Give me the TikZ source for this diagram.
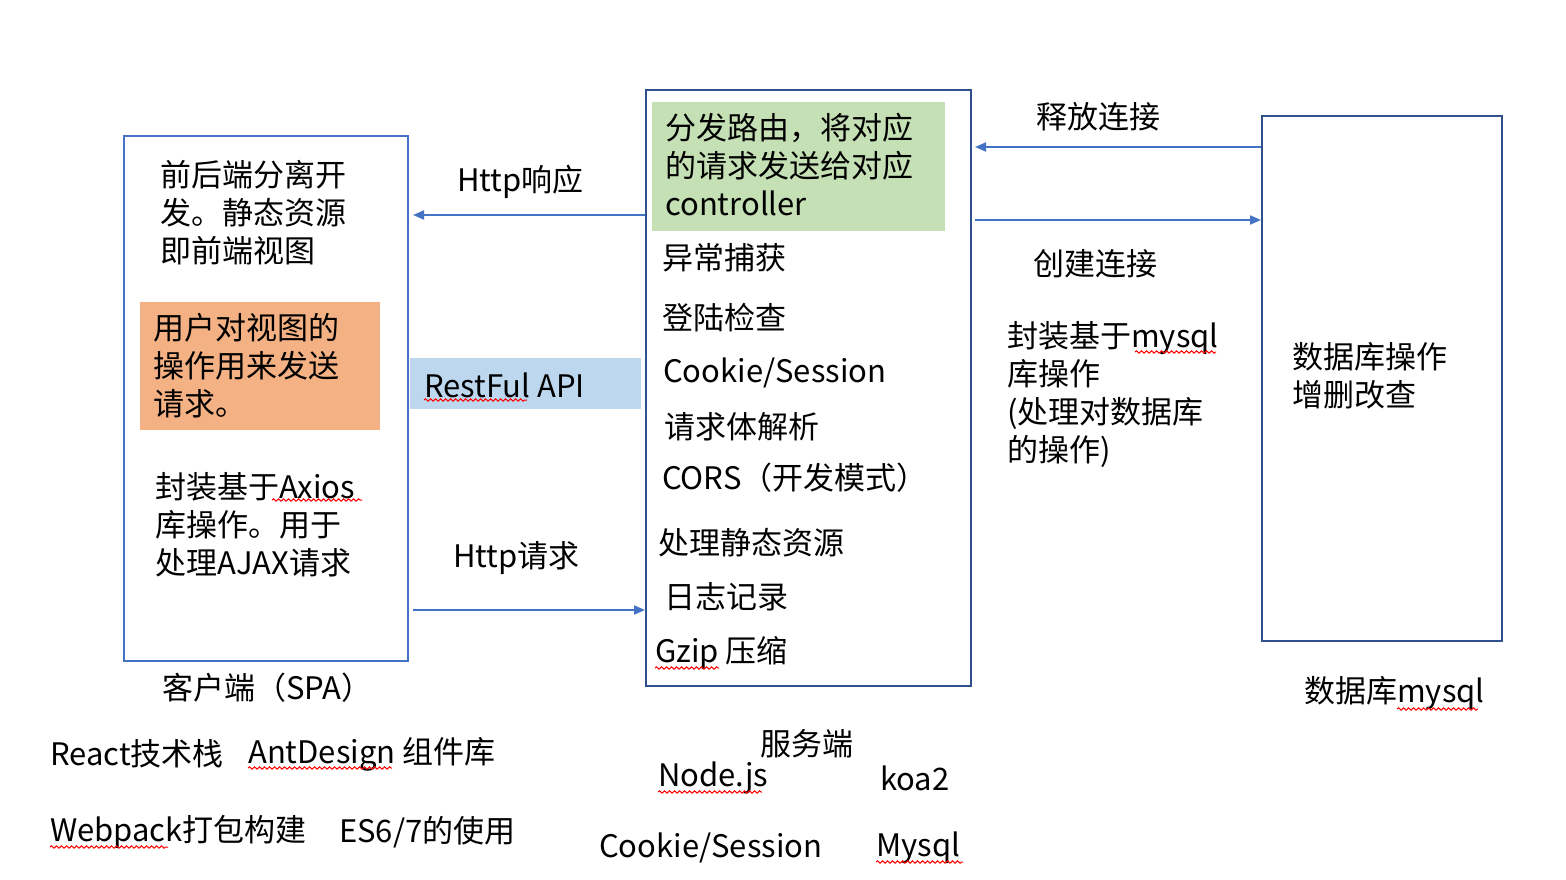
\documentclass[tikz,border=0pt]{standalone}
\usepackage{fontspec}
\setmainfont{Noto Sans CJK SC}
\usetikzlibrary{arrows.meta,decorations.pathmorphing,calc}
\definecolor{lineblue}{HTML}{4472C4}
\definecolor{darkblue}{HTML}{2F528F}
\definecolor{greenfill}{HTML}{C5E0B4}
\definecolor{orangefill}{HTML}{F4B183}
\definecolor{bluefill}{HTML}{BDD7EE}
\tikzset{
  lbl/.style={inner sep=0pt, anchor=west, font=\fontsize{31}{38}\selectfont},
  para/.style={inner sep=0pt, anchor=north west, align=left, font=\fontsize{31}{38}\selectfont},
  frame/.style={draw, line width=2pt, anchor=north west, inner sep=0pt},
  panel/.style={anchor=north west, inner sep=0pt, draw=none},
  conn/.style={draw=lineblue, line width=2pt, -{Triangle[length=11pt,width=9pt]}},
  squiggle/.style={draw=red, line width=1pt, decorate, decoration={snake, amplitude=1.2pt, segment length=5pt}},
}
\begin{document}
\begin{tikzpicture}[x=1pt,y=-1pt]
\useasboundingbox[fill=white] (0,0) rectangle (1566,880);

% boxes
\node[frame, draw=lineblue, minimum width=284pt, minimum height=525pt] (client) at (123,135) {};
\node[frame, draw=darkblue, minimum width=325pt, minimum height=596pt] (server) at (645,89) {};
\node[frame, draw=darkblue, minimum width=240pt, minimum height=525pt] (db) at (1261,115) {};

% coloured panels
\node[panel, fill=greenfill, minimum width=293pt, minimum height=129pt] (route) at (652,102) {};
\node[panel, fill=orangefill, minimum width=240pt, minimum height=128pt] (userop) at (140,302) {};
\node[panel, fill=bluefill, minimum width=231pt, minimum height=51pt] (rest) at (410,358) {};

% client texts
\node[para] (sep) at (160,160) {前后端分离开\\发。静态资源\\即前端视图};
\node[para] (userops) at (153,313) {用户对视图的\\操作用来发送\\请求。};
\node[para] (axios) at (155,472) {封装基于Axios\\库操作。用于\\处理AJAX请求};
\node[lbl] (clientname) at (162,688) {客户端（SPA）};

% middle labels
\node[lbl] (resp) at (457,182) {Http响应};
\node[lbl] (restful) at (424,385) {RestFul API};
\node[lbl] (reqlbl) at (453,558) {Http请求};

% server texts
\node[para] (routetxt) at (665,113) {分发路由，将对应\\的请求发送给对应\\controller};
\node[lbl] (s1) at (662,258) {异常捕获};
\node[lbl] (s2) at (662,318) {登陆检查};
\node[lbl] (s3) at (663,373) {Cookie/Session};
\node[lbl] (s4) at (664,427) {请求体解析};
\node[lbl] (s5) at (662,478) {CORS（开发模式）};
\node[lbl] (s6) at (658,543) {处理静态资源};
\node[lbl] (s7) at (664,597) {日志记录};
\node[lbl] (s8) at (655,653) {Gzip 压缩};

% right side
\node[lbl] (release) at (1036,117) {释放连接};
\node[lbl] (create) at (1033,264) {创建连接};
\node[para] (mysqlop) at (1007,321) {封装基于mysql\\库操作\\(处理对数据库\\的操作)};
\node[para] (dbop) at (1292,342) {数据库操作\\增删改查};
\node[lbl] (dbname) at (1304,693) {数据库mysql};

% bottom texts
\node[lbl] (servername) at (760,744) {服务端};
\node[lbl] (node) at (658,778) {Node.js};
\node[lbl] (koa) at (880,778) {koa2};
\node[lbl] (cs) at (599,848) {Cookie/Session};
\node[lbl] (mysqlb) at (876,848) {Mysql};
\node[lbl] (react) at (50,754) {React技术栈};
\node[lbl] (antd) at (248,754) {AntDesign 组件库};
\node[lbl] (webpack) at (50,832) {Webpack打包构建};
\node[lbl] (es) at (339,832) {ES6/7的使用};

% connectors
\draw[conn] (server.west |- 0,215) -- ($(client.east |- 0,215)+(4,0)$);
\draw[conn] ($(client.east |- 0,610)+(4,0)$) -- (server.west |- 0,610);
\draw[conn] (db.west |- 0,147) -- ($(server.east |- 0,147)+(3,0)$);
\draw[conn] ($(server.east |- 0,220)+(3,0)$) -- (db.west |- 0,220);

% spell-check underlines
\draw[squiggle] (424,400) -- (527,400);
\draw[squiggle] (272,500) -- (362,500);
\draw[squiggle] (655,668) -- (719,668);
\draw[squiggle] (1135,352) -- (1216,352);
\draw[squiggle] (1397,709) -- (1478,709);
\draw[squiggle] (248,768) -- (392,768);
\draw[squiggle] (658,792) -- (762,792);
\draw[squiggle] (50,847) -- (168,847);
\draw[squiggle] (876,862) -- (963,862);
\end{tikzpicture}
\end{document}
